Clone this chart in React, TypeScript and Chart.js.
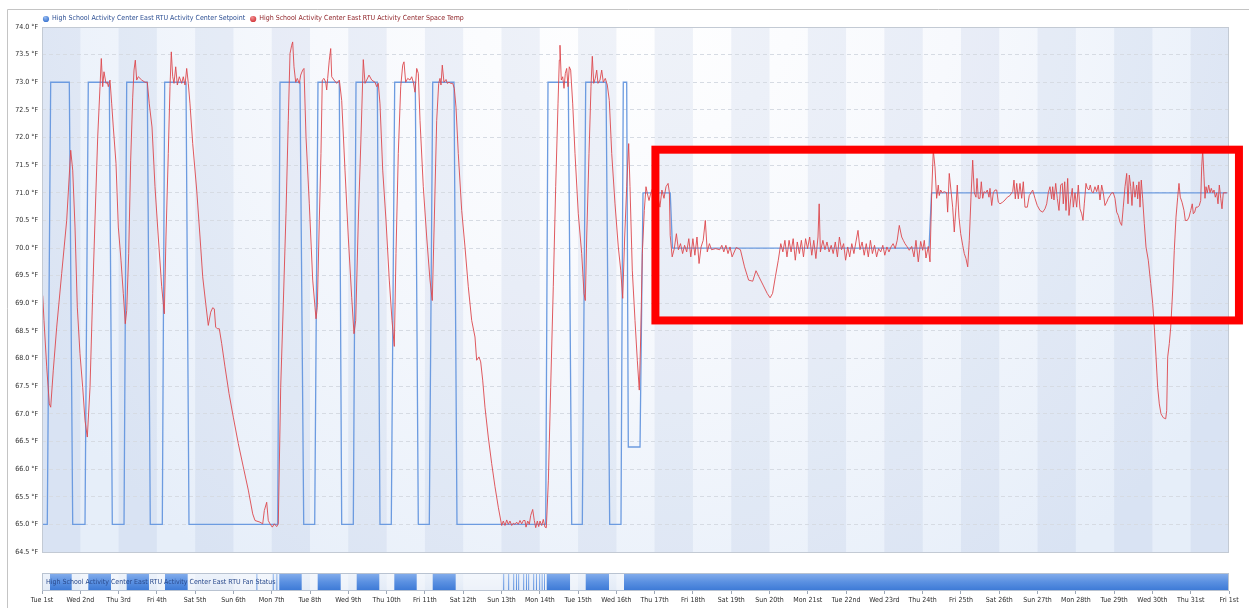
import { useEffect, useRef } from 'react';
import { Chart, registerables } from 'chart.js';

Chart.register(...registerables);

const FONT = '"DejaVu Sans Condensed", "Liberation Sans Narrow", "Arial Narrow", sans-serif';
const FONT_SIZE = 7;

const dayLabels = [
  'Tue 1st', 'Wed 2nd', 'Thu 3rd', 'Fri 4th', 'Sat 5th', 'Sun 6th', 'Mon 7th', 'Tue 8th',
  'Wed 9th', 'Thu 10th', 'Fri 11th', 'Sat 12th', 'Sun 13th', 'Mon 14th', 'Tue 15th', 'Wed 16th',
  'Thu 17th', 'Fri 18th', 'Sat 19th', 'Sun 20th', 'Mon 21st', 'Tue 22nd', 'Wed 23rd', 'Thu 24th',
  'Fri 25th', 'Sat 26th', 'Sun 27th', 'Mon 28th', 'Tue 29th', 'Wed 30th', 'Thu 31st', 'Fri 1st',
];

const seriesNames = [
  'High School Activity Center East RTU Activity Center Setpoint',
  'High School Activity Center East RTU Activity Center Space Temp',
];
const fanName = 'High School Activity Center East RTU Activity Center East RTU Fan Status';

const yMin = 64.5;
const yMax = 74.0;
const yStep = 0.5;

// Highlighted period (red annotation box), in data units: days and °F
const highlightDays = [16.02, 31.26];
const highlightTemps = [68.69, 71.78];

// Setpoint (°F) — time in days since Tue 1st 00:00
const setpointTimes = [
  0, 0.138, 0.227, 0.713, 0.802, 1.123, 1.209, 1.758, 1.836, 2.142, 2.212, 2.75, 2.828,
  3.142, 3.204, 3.761, 3.839, 6.156, 6.216, 6.738, 6.835, 7.122, 7.208, 7.764, 7.827,
  8.13, 8.201, 8.757, 8.827, 9.122, 9.211, 9.749, 9.828, 10.115, 10.204, 10.76, 10.838,
  13.155, 13.215, 13.745, 13.834, 14.111, 14.2, 14.73, 14.826, 15.121, 15.181, 15.27, 15.312,
  15.618, 15.696, 16.407, 16.466, 23.166, 23.231, 30.961,
];
const setpointValues = [
  65, 65, 73, 73, 65, 65, 73, 73, 65, 65, 73, 73, 65,
  65, 73, 73, 65, 65, 73, 73, 65, 65, 73, 73, 65,
  65, 73, 73, 65, 65, 73, 73, 65, 65, 73, 73, 65,
  65, 73, 73, 65, 65, 73, 73, 65, 65, 73, 73, 66.4,
  66.4, 71, 71, 70, 70, 71, 71,
];

// Space temperature [day, °F]
const tempWeek1: [number, number][] = [
  [0.018, 69.14], [0.052, 68.69], [0.123, 67.85], [0.191, 67.18], [0.227, 67.12], [0.295, 67.79],
  [0.384, 68.57], [0.514, 69.54], [0.645, 70.5], [0.75, 71.77], [0.802, 71.41], [0.862, 70.38],
  [0.922, 68.93], [0.992, 68.09], [1.063, 67.48], [1.123, 66.88], [1.183, 66.58], [1.254, 67.48],
  [1.324, 69.18], [1.384, 70.5], [1.455, 72.01], [1.515, 72.92], [1.549, 73.43], [1.585, 72.92],
  [1.619, 73.19], [1.671, 72.98], [1.705, 73.0], [1.732, 72.92], [1.776, 73.04], [1.82, 72.61],
  [1.862, 72.19], [1.933, 71.53], [1.993, 70.38], [2.063, 69.78], [2.123, 69.18], [2.175, 68.63],
  [2.212, 68.87], [2.264, 69.9], [2.316, 71.59], [2.369, 72.73], [2.403, 73.22], [2.437, 73.4],
  [2.473, 73.04], [2.515, 73.1], [2.604, 73.04], [2.69, 73.0], [2.75, 73.0], [2.802, 72.61],
  [2.873, 72.19], [2.951, 71.11], [3.037, 70.2], [3.126, 69.3], [3.194, 68.81], [3.238, 70.2],
  [3.298, 71.71], [3.343, 72.92], [3.377, 73.55], [3.413, 73.1], [3.447, 72.98], [3.492, 73.28],
  [3.534, 72.95], [3.586, 73.1], [3.648, 72.98], [3.69, 73.1], [3.735, 72.95], [3.779, 73.25],
  [3.821, 72.98], [3.865, 72.61], [3.936, 71.89], [4.04, 71.05], [4.127, 70.2], [4.197, 69.48],
  [4.275, 69.0], [4.343, 68.6], [4.406, 68.84], [4.458, 68.92], [4.5, 68.9], [4.536, 68.57],
  [4.578, 68.54], [4.63, 68.54], [4.693, 68.27], [4.779, 67.85], [4.884, 67.37], [4.996, 66.94],
  [5.127, 66.46], [5.257, 66.04], [5.388, 65.62], [5.503, 65.19], [5.563, 65.07], [5.693, 65.04],
  [5.764, 65.01], [5.806, 65.25], [5.868, 65.4], [5.91, 65.07], [5.954, 65.01], [6.015, 64.95],
  [6.067, 65.01], [6.129, 64.96], [6.171, 65.01],
];
const tempWeek2: [number, number][] = [
  [6.234, 67.48], [6.302, 68.99], [6.372, 70.62], [6.432, 72.31], [6.477, 73.52], [6.521, 73.67],
  [6.547, 73.73], [6.581, 73.28], [6.626, 73.0], [6.667, 73.07], [6.72, 72.98], [6.756, 73.13],
  [6.808, 73.22], [6.842, 73.25], [6.895, 72.01], [6.981, 70.8], [7.07, 69.42], [7.13, 68.93],
  [7.156, 68.72], [7.19, 68.93], [7.242, 70.5], [7.286, 71.71], [7.32, 73.04], [7.365, 73.07],
  [7.409, 73.0], [7.435, 72.86], [7.461, 73.07], [7.503, 73.4], [7.54, 73.61], [7.566, 73.1],
  [7.626, 73.04], [7.696, 72.98], [7.766, 73.04], [7.827, 72.67], [7.913, 71.41], [7.999, 70.2],
  [8.088, 69.11], [8.148, 68.45], [8.193, 68.69], [8.261, 70.5], [8.331, 72.01], [8.391, 73.41],
  [8.436, 72.98], [8.48, 73.04], [8.54, 73.13], [8.611, 73.04], [8.697, 73.0], [8.741, 72.92],
  [8.783, 72.98], [8.827, 72.61], [8.898, 71.41], [8.984, 70.5], [9.07, 69.42], [9.141, 68.69],
  [9.201, 68.22], [9.245, 69.9], [9.305, 71.71], [9.368, 72.92], [9.42, 73.31], [9.454, 73.37],
  [9.498, 73.0], [9.551, 73.07], [9.611, 73.04], [9.655, 73.1], [9.697, 73.0], [9.741, 72.82],
  [9.786, 73.25], [9.828, 73.16], [9.872, 72.31], [9.958, 71.11], [10.047, 70.2], [10.133, 69.42],
  [10.193, 69.05], [10.245, 70.5], [10.308, 72.31], [10.36, 72.98], [10.394, 73.07], [10.42, 72.95],
  [10.454, 73.31], [10.498, 73.0], [10.551, 73.05], [10.585, 72.98], [10.629, 73.0], [10.674, 72.98],
  [10.726, 72.98], [10.768, 72.89], [10.812, 72.55], [10.872, 71.71], [10.961, 70.68], [11.047, 70.02],
  [11.133, 69.3], [11.222, 68.69], [11.308, 68.39], [11.352, 67.97], [11.413, 68.03], [11.457, 67.94],
  [11.509, 67.61], [11.569, 67.12], [11.655, 66.58], [11.744, 66.1], [11.831, 65.68], [11.917, 65.31],
  [12.005, 64.98], [12.047, 65.06], [12.092, 64.98], [12.136, 65.08], [12.178, 65.0], [12.222, 65.06],
  [12.267, 64.98], [12.308, 65.02], [12.353, 65.0], [12.397, 65.04], [12.439, 65.0], [12.483, 65.07],
  [12.528, 65.01], [12.57, 65.07], [12.614, 65.07], [12.64, 64.95], [12.685, 65.06], [12.727, 65.0],
  [12.763, 65.16], [12.815, 65.27], [12.857, 65.07], [12.894, 64.94], [12.936, 65.06], [12.972, 64.96],
  [13.006, 65.06], [13.05, 64.98], [13.092, 65.09], [13.136, 64.95], [13.171, 64.94],
];
const tempWeek3: [number, number][] = [
  [13.225, 65.8], [13.285, 67.48], [13.353, 69.3], [13.416, 71.11], [13.476, 72.61], [13.51, 73.4],
  [13.528, 73.67], [13.562, 73.04], [13.599, 73.1], [13.633, 72.89], [13.667, 73.16], [13.703, 73.25],
  [13.737, 72.92], [13.771, 73.28], [13.807, 73.22], [13.86, 72.61], [13.92, 71.71], [14.006, 70.62],
  [14.095, 69.9], [14.155, 69.18], [14.189, 69.05], [14.226, 70.2], [14.286, 71.71], [14.338, 72.92],
  [14.372, 73.47], [14.409, 72.98], [14.45, 73.07], [14.487, 73.22], [14.52, 72.98], [14.573, 73.04],
  [14.617, 73.22], [14.659, 73.0], [14.711, 73.07], [14.764, 72.95], [14.816, 72.67], [14.879, 71.71],
  [14.965, 70.8], [15.051, 70.02], [15.114, 69.6], [15.166, 69.09], [15.218, 70.2], [15.27, 71.11],
  [15.322, 71.89], [15.356, 71.11], [15.416, 69.6], [15.487, 68.69], [15.547, 67.97], [15.599, 67.43],
  [15.636, 68.39], [15.678, 69.9], [15.73, 70.68], [15.774, 71.11], [15.808, 70.99], [15.853, 70.86],
  [15.897, 70.99], [15.957, 71.1], [16.009, 70.92], [16.062, 71.02], [16.137, 70.74], [16.19, 71.05],
  [16.244, 70.9], [16.297, 71.11], [16.351, 71.17], [16.385, 71.0],
];
const tempWeek4: [number, number][] = [
  [16.406, 70.23], [16.458, 69.84], [16.513, 69.99], [16.568, 70.26], [16.62, 69.97], [16.675, 70.08],
  [16.73, 69.9], [16.782, 70.05], [16.837, 69.93], [16.892, 70.17], [16.944, 69.84], [16.999, 70.17],
  [17.051, 69.87], [17.106, 70.2], [17.16, 69.72], [17.213, 70.02], [17.268, 70.14], [17.323, 70.5],
  [17.375, 69.93], [17.43, 70.08], [17.485, 69.97], [17.592, 69.99], [17.699, 69.97], [17.754, 70.05],
  [17.806, 69.93], [17.861, 70.05], [17.916, 69.9], [17.968, 70.02], [18.023, 69.84], [18.13, 70.01],
  [18.24, 69.97], [18.347, 69.66], [18.454, 69.42], [18.561, 69.4], [18.647, 69.59], [18.723, 69.48],
  [18.832, 69.33], [18.939, 69.18], [19.015, 69.1], [19.08, 69.18], [19.153, 69.48], [19.229, 69.78],
  [19.294, 70.08], [19.349, 69.93], [19.402, 70.14], [19.456, 69.84], [19.511, 70.14], [19.563, 69.93],
  [19.618, 70.17], [19.673, 69.78], [19.725, 70.11], [19.78, 69.9], [19.832, 70.14], [19.887, 69.84],
  [19.942, 70.17], [19.994, 69.99], [20.049, 70.2], [20.104, 69.87], [20.156, 70.14], [20.211, 69.81],
  [20.266, 70.2], [20.297, 70.8], [20.328, 69.93], [20.394, 70.14], [20.448, 69.97], [20.501, 70.11],
  [20.556, 69.93], [20.611, 70.05], [20.663, 69.9], [20.718, 70.11], [20.773, 69.84], [20.825, 70.2],
  [20.88, 69.97], [20.935, 70.08], [20.987, 69.78], [21.042, 70.02], [21.094, 69.84], [21.149, 70.08],
  [21.204, 69.9], [21.256, 70.11], [21.311, 70.32], [21.363, 69.97], [21.418, 70.11], [21.473, 69.87],
  [21.527, 70.08], [21.58, 69.84], [21.635, 70.14], [21.687, 69.9], [21.742, 70.05], [21.797, 69.84],
  [21.849, 69.99], [21.904, 69.93], [21.959, 70.05], [22.011, 69.87], [22.066, 70.02], [22.12, 69.93],
  [22.173, 70.02], [22.227, 70.08], [22.282, 69.99], [22.335, 70.14], [22.389, 70.41], [22.452, 70.2],
  [22.494, 70.14], [22.538, 70.08], [22.598, 70.02], [22.65, 69.96], [22.713, 70.03], [22.773, 69.84],
  [22.825, 70.14], [22.885, 69.75], [22.948, 70.12], [23.0, 69.96], [23.042, 70.14], [23.086, 69.82],
  [23.146, 70.03], [23.191, 69.75],
];
const tempWeek5: [number, number][] = [
  [23.235, 70.99], [23.277, 71.77], [23.321, 71.47], [23.365, 70.9], [23.407, 71.14], [23.433, 70.95],
  [23.47, 71.05], [23.511, 71.0], [23.564, 71.02], [23.626, 71.0], [23.652, 70.65], [23.694, 71.35],
  [23.738, 71.05], [23.783, 70.74], [23.825, 70.29], [23.87, 70.74], [23.904, 71.14], [23.948, 70.56],
  [23.993, 70.26], [24.045, 70.05], [24.087, 69.9], [24.131, 69.81], [24.176, 69.66], [24.217, 70.14],
  [24.262, 70.92], [24.306, 71.59], [24.348, 71.0], [24.392, 70.92], [24.419, 71.26], [24.453, 70.9],
  [24.497, 70.9], [24.531, 71.2], [24.568, 70.9], [24.602, 71.02], [24.646, 71.0], [24.688, 71.05],
  [24.732, 70.92], [24.758, 71.08], [24.803, 70.77], [24.844, 71.0], [24.889, 71.05], [24.933, 71.05],
  [24.975, 70.83], [25.019, 70.8], [25.089, 70.83], [25.15, 70.87], [25.21, 70.92], [25.28, 70.95],
  [25.325, 71.0], [25.351, 71.02], [25.385, 71.23], [25.419, 70.89], [25.456, 71.17], [25.497, 70.89],
  [25.541, 71.17], [25.586, 70.9], [25.628, 71.2], [25.672, 70.74], [25.732, 70.74], [25.784, 70.95],
  [25.829, 71.0], [25.873, 71.05], [25.933, 70.9], [25.993, 70.77], [26.064, 70.68], [26.134, 70.65],
  [26.194, 70.71], [26.239, 70.8], [26.28, 71.0], [26.325, 71.11], [26.369, 70.89], [26.395, 71.11],
  [26.429, 70.87], [26.474, 71.17], [26.515, 70.9], [26.56, 70.68], [26.604, 71.14], [26.646, 71.17],
  [26.672, 70.8], [26.709, 71.2], [26.743, 70.68], [26.787, 71.26], [26.821, 70.59], [26.866, 70.89],
  [26.907, 71.08], [26.934, 70.74], [26.978, 71.0], [27.022, 70.74], [27.064, 71.14], [27.108, 70.71],
  [27.153, 70.62], [27.187, 70.5], [27.221, 70.8], [27.265, 71.17], [27.299, 71.08], [27.343, 71.05],
  [27.377, 71.14], [27.414, 71.02], [27.455, 71.0], [27.5, 71.11], [27.544, 71.02], [27.586, 71.14],
  [27.631, 70.87], [27.675, 71.14], [27.717, 71.0], [27.761, 70.77], [27.806, 70.83], [27.847, 70.9],
  [27.892, 70.95], [27.936, 71.0], [27.978, 71.0], [28.022, 70.9], [28.067, 70.65], [28.109, 70.59],
  [28.153, 70.47], [28.197, 70.41], [28.239, 70.74], [28.284, 71.11], [28.328, 71.35], [28.362, 70.8],
  [28.396, 71.32], [28.433, 71.11], [28.466, 70.77], [28.5, 71.2], [28.545, 70.92], [28.589, 71.14],
  [28.615, 70.89], [28.649, 71.2], [28.676, 70.74], [28.709, 71.23], [28.746, 70.89], [28.788, 70.44],
  [28.832, 70.02], [28.892, 69.78], [28.955, 69.36], [29.007, 69.0], [29.049, 68.57], [29.094, 68.03],
  [29.137, 67.48], [29.18, 67.18], [29.224, 67.0], [29.284, 66.93], [29.347, 66.91], [29.373, 67.06],
  [29.399, 68.03], [29.441, 68.27], [29.478, 68.57], [29.53, 69.24], [29.571, 69.96], [29.616, 70.56],
  [29.66, 70.92], [29.694, 71.17], [29.728, 70.92], [29.773, 70.83], [29.825, 70.68], [29.859, 70.5],
  [29.911, 70.5], [29.956, 70.56], [30.0, 70.68], [30.041, 70.8], [30.068, 70.62], [30.104, 70.65],
  [30.138, 70.74], [30.182, 70.74], [30.224, 70.77], [30.261, 70.86], [30.287, 71.47], [30.313, 71.77],
  [30.347, 71.29], [30.373, 70.9], [30.399, 71.11], [30.433, 71.0], [30.47, 71.14], [30.504, 71.0],
  [30.538, 71.08], [30.575, 71.0], [30.609, 71.05], [30.642, 70.92], [30.679, 71.0], [30.713, 70.8],
  [30.747, 71.14], [30.784, 70.9], [30.817, 70.71], [30.851, 71.0], [30.896, 71.0], [30.94, 71.0],
];

// Fan status: on-intervals (days)
const fanOnStart = [
  0.209, 1.209, 2.212, 3.212, 5.602, 6.028, 6.124, 6.197, 7.2, 8.219, 9.201, 10.204,
  12.048, 12.118, 12.178, 12.249, 12.309, 12.379, 12.439, 12.51, 12.57, 12.64, 12.7, 12.771,
  12.831, 12.901, 12.988, 13.05, 13.11, 13.181, 14.2, 15.2,
];
const fanOnEnd = [
  0.776, 1.802, 2.794, 3.805, 5.623, 6.049, 6.145, 6.782, 7.801, 8.809, 9.786, 10.804,
  12.07, 12.14, 12.2, 12.271, 12.331, 12.401, 12.461, 12.532, 12.592, 12.662, 12.722, 12.793,
  12.853, 12.923, 13.01, 13.072, 13.132, 13.79, 14.808, 30.974,
];

const COLORS = {
  setpoint: '#6c9be0',
  temp: 'rgba(221, 72, 78, 0.9)',
  legendBlue: '#2d4f93',
  legendRed: '#8f2429',
  dotBlue: '#3f78d2',
  dotRed: '#d43a3e',
  tick: '#2b2b2b',
  grid: '#d6dbe3',
  border: '#c3cad4',
  frame: '#c4c4c4',
  highlight: '#ff0000',
};

const tempData = [...tempWeek1, ...tempWeek2, ...tempWeek3, ...tempWeek4, ...tempWeek5].map(([x, y]) => ({ x, y }));
const setpointData = setpointTimes.map((x, i) => ({ x, y: setpointValues[i] }));
const fanData: { x: number; y: number }[] = [];
fanOnStart.forEach((s, i) => {
  fanData.push({ x: s, y: 0 }, { x: s, y: 1 }, { x: fanOnEnd[i], y: 1 }, { x: fanOnEnd[i], y: 0 });
});

const backgroundPlugin = {
  id: 'panelBackground',
  beforeDraw(chart: any) {
    const { ctx } = chart;
    const xs = chart.scales.x;
    const ys = chart.scales.y;
    const fs = chart.scales.yFan;
    const L = xs.left, R = xs.right, T = ys.top, B = ys.bottom;
    ctx.save();
    ctx.strokeStyle = COLORS.frame;
    ctx.lineWidth = 1;
    ctx.beginPath();
    ctx.moveTo(7.5, chart.height);
    ctx.lineTo(7.5, 9.5);
    ctx.lineTo(chart.width, 9.5);
    ctx.stroke();
    const cx = (L + R) / 2;
    const g = ctx.createRadialGradient(cx, T - 40, 0, cx, T - 40, (R - L) * 0.6);
    g.addColorStop(0, '#ffffff');
    g.addColorStop(0.45, '#f7f9fd');
    g.addColorStop(1, '#e6eef9');
    ctx.fillStyle = g;
    ctx.fillRect(L, T, R - L, B - T);
    ctx.fillStyle = 'rgba(120,150,200,0.11)';
    for (let d = 0; d < dayLabels.length - 1; d += 2) {
      const a = xs.getPixelForValue(d);
      const b = xs.getPixelForValue(d + 1);
      ctx.fillRect(a, T, b - a, B - T);
    }
    const nT = fs.getPixelForValue(1);
    const nB = fs.getPixelForValue(0);
    const ng = ctx.createLinearGradient(0, nT, 0, nB);
    ng.addColorStop(0, '#eef3fb');
    ng.addColorStop(1, '#e2eaf6');
    ctx.fillStyle = ng;
    ctx.fillRect(L, nT, R - L, nB - nT);
    ctx.fillStyle = 'rgba(255,255,255,0.35)';
    for (let d = 1; d < dayLabels.length - 1; d += 2) {
      const a = xs.getPixelForValue(d);
      const b = xs.getPixelForValue(d + 1);
      ctx.fillRect(a, nT, b - a, nB - nT);
    }
    ctx.restore();
  },
  afterDatasetsDraw(chart: any) {
    const { ctx } = chart;
    const xs = chart.scales.x;
    const ys = chart.scales.y;
    const fs = chart.scales.yFan;
    const L = xs.left, R = xs.right, T = ys.top, B = ys.bottom;
    ctx.save();
    ctx.strokeStyle = COLORS.border;
    ctx.lineWidth = 1;
    ctx.strokeRect(Math.round(L) + 0.5, Math.round(T) + 0.5, Math.round(R - L) - 1, Math.round(B - T));
    const nT = fs.getPixelForValue(1);
    const nB = fs.getPixelForValue(0);
    ctx.strokeStyle = '#b9c3d1';
    ctx.strokeRect(Math.round(L) + 0.5, Math.round(nT) + 0.5, Math.round(R - L) - 1, Math.round(nB - nT) - 1);
    ctx.font = `${FONT_SIZE}px ${FONT}`;
    ctx.fillStyle = '#2a4a8c';
    ctx.textBaseline = 'middle';
    ctx.textAlign = 'left';
    ctx.fillText(fanName, L + 4, (nT + nB) / 2);
    ctx.restore();
  },
  afterDraw(chart: any) {
    const { ctx } = chart;
    const xs = chart.scales.x;
    const ys = chart.scales.y;
    ctx.save();
    // legend
    ctx.font = `${FONT_SIZE}px ${FONT}`;
    ctx.textBaseline = 'middle';
    ctx.textAlign = 'left';
    let x = 46;
    const y = 18.5;
    const dots = [COLORS.dotBlue, COLORS.dotRed];
    const texts = [COLORS.legendBlue, COLORS.legendRed];
    seriesNames.forEach((name, i) => {
      const rg = ctx.createRadialGradient(x - 1, y - 1, 0.5, x, y, 3.4);
      rg.addColorStop(0, i === 0 ? '#8fb5ee' : '#f08a8c');
      rg.addColorStop(1, dots[i]);
      ctx.fillStyle = rg;
      ctx.beginPath();
      ctx.arc(x, y + 0.5, 3.1, 0, Math.PI * 2);
      ctx.fill();
      ctx.fillStyle = texts[i];
      ctx.fillText(name, x + 6, y);
      x = x + 6 + ctx.measureText(name).width + 8;
    });
    // highlight annotation box
    const hx1 = xs.getPixelForValue(highlightDays[0]);
    const hx2 = xs.getPixelForValue(highlightDays[1]);
    const hy1 = ys.getPixelForValue(highlightTemps[1]);
    const hy2 = ys.getPixelForValue(highlightTemps[0]);
    ctx.strokeStyle = COLORS.highlight;
    ctx.lineWidth = 8;
    ctx.lineJoin = 'miter';
    ctx.strokeRect(hx1, hy1, hx2 - hx1, hy2 - hy1);
    ctx.restore();
  },
};

export default function App() {
  const ref = useRef<HTMLCanvasElement>(null);
  useEffect(() => {
    const canvas = ref.current;
    if (!canvas) return;
    const chart = new Chart(canvas, {
      type: 'line',
      data: {
        datasets: [
          {
            label: seriesNames[1],
            data: tempData,
            borderColor: COLORS.temp,
            borderWidth: 1,
            pointRadius: 0,
            tension: 0,
            yAxisID: 'y',
            order: 0,
          },
          {
            label: seriesNames[0],
            data: setpointData,
            borderColor: COLORS.setpoint,
            borderWidth: 1.3,
            pointRadius: 0,
            tension: 0,
            yAxisID: 'y',
            order: 1,
          },
          {
            label: fanName,
            data: fanData,
            borderColor: 'rgba(0,0,0,0)',
            borderWidth: 0,
            pointRadius: 0,
            tension: 0,
            fill: 'origin',
            yAxisID: 'yFan',
            order: 2,
            backgroundColor: (c: any) => {
              const fs = c.chart.scales.yFan;
              if (!fs) return '#5a90e1';
              const t = fs.getPixelForValue(1);
              const b = fs.getPixelForValue(0);
              if (!Number.isFinite(t) || !Number.isFinite(b) || t === b) return '#5a90e1';
              const g = c.chart.ctx.createLinearGradient(0, t, 0, b);
              g.addColorStop(0, '#86afec');
              g.addColorStop(0.5, '#5a90e1');
              g.addColorStop(1, '#3b78d5');
              return g;
            },
          },
        ],
      },
      options: {
        responsive: false,
        animation: false,
        events: [],
        layout: { padding: { top: 27, left: 0, right: 20, bottom: 0 } },
        plugins: {
          legend: { display: false },
          tooltip: { enabled: false },
          title: { display: false },
        },
        scales: {
          x: {
            type: 'linear',
            min: 0,
            max: dayLabels.length - 1,
            afterFit: (s: any) => { s.height = 17; },
            ticks: {
              stepSize: 1,
              autoSkip: false,
              maxRotation: 0,
              padding: 2,
              color: COLORS.tick,
              font: { family: FONT, size: FONT_SIZE },
              callback: (v: any) => dayLabels[Number(v)] ?? '',
            },
            grid: { drawOnChartArea: false, drawTicks: true, tickLength: 3, color: '#9ea8b6' },
            border: { display: false },
          },
          y: {
            type: 'linear',
            position: 'left',
            min: yMin,
            max: yMax,
            stack: 'panel',
            stackWeight: 525,
            weight: 2,
            afterFit: (s: any) => { s.width = 42; },
            ticks: {
              stepSize: yStep,
              padding: 4,
              color: COLORS.tick,
              font: { family: FONT, size: FONT_SIZE },
              callback: (v: any) => `${Number(v).toFixed(1)} °F`,
            },
            grid: { color: COLORS.grid, drawTicks: false },
            border: { display: false, dash: [4, 3] },
          },
          yFan: {
            type: 'linear',
            position: 'left',
            min: 0,
            max: 39 / 18,
            stack: 'panel',
            stackWeight: 39,
            weight: 1,
            afterFit: (s: any) => { s.width = 42; },
            ticks: { display: false },
            grid: { display: false },
            border: { display: false },
          },
        },
      },
      plugins: [backgroundPlugin],
    } as any);
    return () => chart.destroy();
  }, []);
  return (
    <div style={{ position: 'fixed', left: 0, top: 0, width: 1249, height: 608, background: '#ffffff' }}>
      <canvas ref={ref} width={1249} height={608} style={{ display: 'block' }} />
    </div>
  );
}
